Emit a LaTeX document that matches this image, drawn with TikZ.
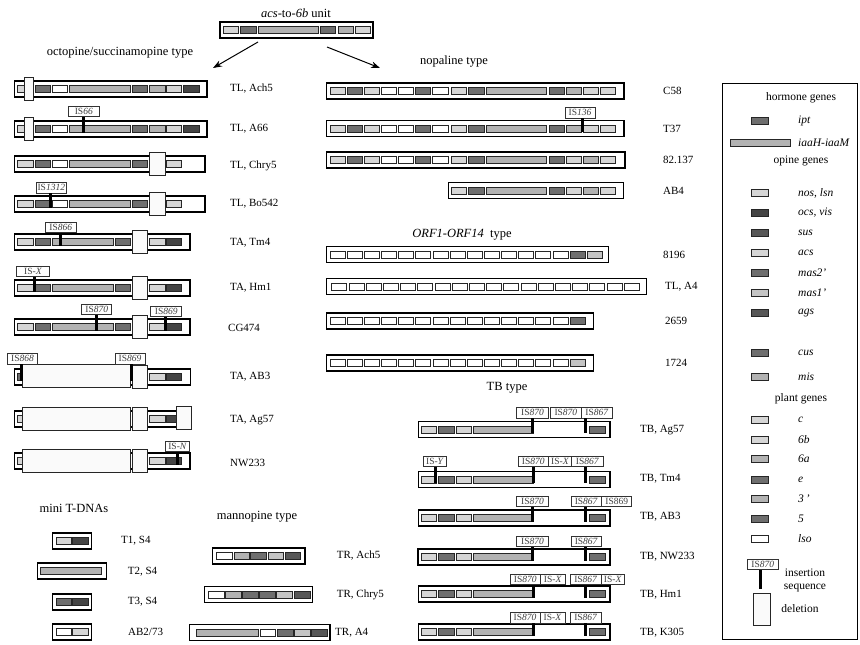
\documentclass[tikz,border=0pt]{standalone}
\usepackage{fontspec}
\setmainfont{Liberation Serif}
\usetikzlibrary{arrows.meta}
\definecolor{GA}{HTML}{D6D6D6}
\definecolor{GB}{HTML}{B2B2B2}
\definecolor{GC}{HTML}{6E6E6E}
\definecolor{GD}{HTML}{444444}
\definecolor{GF}{HTML}{575757}
\definecolor{GE}{HTML}{C4C4C4}
\newcommand{\Gn}[4]{\draw[gene,fill=#4] ({#1},{#3-3.6}) rectangle ({#2},{#3+3.6});}
\newcommand{\Cb}[3]{\draw[cons] ({#1},{#3-8}) rectangle ({#2},{#3+8});}
\newcommand{\Dl}[3]{\draw[del] ({#1},{#3-11.5}) rectangle ({#2},{#3+11.5});}
\newcommand{\ISl}[5]{\node[islab, minimum width=#4pt] (#1) at ({#2},{#3}) {#5};}
\newcommand{\ISbar}[3]{\coordinate (#1b) at ({#2},{#3}); \draw[isbar] (#1.south -| #1b) -- (#1b);}
\newcommand{\isn}[1]{IS\textit{#1}}
\begin{document}
\begin{tikzpicture}[x=1pt,y=-1pt,
 gene/.style={draw=black!85, line width=0.7pt},
 cons/.style={draw=black, line width=1.4pt, fill=white},
 del/.style={draw=black!85, line width=0.8pt, fill=black!2},
 islab/.style={draw=black!80, line width=0.6pt, fill=white, inner sep=0pt, minimum height=10.5pt, anchor=south, font=\fontsize{9.5}{10}\selectfont, text=black!75},
 isbar/.style={line width=3pt, black},
 rowlab/.style={anchor=west, font=\fontsize{11}{13}\selectfont, inner sep=0pt},
 title/.style={font=\fontsize{12.5}{14}\selectfont, inner sep=0pt},
 legh/.style={font=\fontsize{11.5}{13}\selectfont, inner sep=0pt},
 legt/.style={anchor=west, font=\fontsize{11.5}{13}\selectfont\itshape, inner sep=0pt},
 arr/.style={-{Stealth[length=9pt,width=6.5pt]}, line width=1pt}]
\useasboundingbox (0,0) rectangle (860,645);
% ---------------- top unit
\node[title] (tunit) at (296,13) {\textit{acs}-to-\textit{6b} unit};
\Cb{220}{373}{30}
\Gn{223.3}{238.3}{30}{GA}\Gn{240.7}{256}{30}{GC}\Gn{258.3}{318.3}{30}{GB}
\Gn{320}{335}{30}{GC}\Gn{338.3}{353.3}{30}{GB}\Gn{355}{370}{30}{GA}
\coordinate (a1s) at (258,42); \coordinate (a1e) at (213,68);
\coordinate (a2s) at (327,47); \coordinate (a2e) at (380,68);
\draw[arr] (a1s) -- (a1e);
\draw[arr] (a2s) -- (a2e);
% ---------------- titles
\node[title] (toct) at (120,53) {octopine/succinamopine type};
\node[title] (tnop) at (454,62) {nopaline type};
\node[title] (torf) at (462,235) {\textit{ORF1-ORF14}\enspace type};
\node[title] (ttb) at (507,388) {TB type};
\node[title] (tmini) at (74,508) {mini T-DNAs};
\node[title] (tman) at (257,517) {mannopine type};
% ---------------- octopine rows
\foreach \y in {89,129}{
 \Cb{14.3}{207}{\y}
 \Gn{17.7}{33}{\y}{GA}\Gn{35}{50.7}{\y}{GC}\Gn{52.7}{67.3}{\y}{white}\Gn{69.3}{130}{\y}{GB}
 \Gn{132.3}{147.3}{\y}{GC}\Gn{149.3}{165}{\y}{GB}\Gn{166.7}{181.7}{\y}{GA}\Gn{183.3}{199.3}{\y}{GD}
 \Dl{24}{33}{\y}
}
\ISl{is66}{83.8}{117}{31}{\isn{66}}\ISbar{is66}{83.3}{132.6}
\foreach \y in {164,204}{
 \Cb{14.3}{205}{\y}
 \Gn{17.7}{33}{\y}{GA}\Gn{35}{50.7}{\y}{GC}\Gn{52.7}{67.3}{\y}{white}\Gn{69.3}{130}{\y}{GB}
 \Gn{132.3}{147.3}{\y}{GC}\Gn{166.7}{181.7}{\y}{GA}
 \Dl{149.3}{165}{\y}
}
\ISl{is1312}{51.3}{193.3}{30.7}{\isn{1312}}\ISbar{is1312}{50.8}{207.6}
\foreach \y in {242,288,327}{
 \Cb{14.3}{190}{\y}
 \Gn{17.7}{33}{\y}{GA}\Gn{35}{50.7}{\y}{GC}\Gn{52.7}{113.3}{\y}{GB}\Gn{115}{130}{\y}{GC}
 \Gn{149.3}{165}{\y}{GA}\Gn{166.7}{181.7}{\y}{GD}
 \Dl{132.3}{147.7}{\y}
}
\ISl{is866}{60.8}{232.7}{30.3}{\isn{866}}\ISbar{is866}{60.8}{245.6}
\ISl{isxh}{33}{277}{32.6}{IS-\textit{X}}\ISbar{isxh}{34.7}{291.6}
\ISl{is870c}{96.7}{315}{30}{\isn{870}}\ISbar{is870c}{96}{330.6}
\ISl{is869c}{166.2}{316.7}{31}{\isn{869}}\ISbar{is869c}{165.8}{330.6}
% AB3
\Cb{14.3}{190.7}{377}
\Gn{17.7}{22.7}{377}{GC}\Gn{149.3}{165}{377}{GA}\Gn{166.7}{181.7}{377}{GD}
\Dl{22.7}{130.7}{376}\Dl{132.7}{147.7}{377}
\ISl{is868}{22.5}{364.3}{30.4}{\isn{868}}\ISbar{is868}{21.7}{380.6}
\ISl{is869a}{130}{364.3}{30}{\isn{869}}\ISbar{is869a}{131.3}{380.6}
% Ag57
\Cb{14.3}{190}{419}
\Gn{17.7}{22.7}{419}{GA}\Gn{149.3}{165}{419}{GA}\Gn{166.7}{176}{419}{GD}
\Dl{22.7}{130.7}{419}\Dl{132.7}{147.7}{419}\Dl{176}{191.7}{417.5}
% NW233
\Cb{14.3}{190}{461}
\Gn{17.7}{22.7}{461}{GA}\Gn{149.3}{165}{461}{GA}\Gn{166.7}{181.7}{461}{GD}
\Dl{22.7}{130.7}{461}\Dl{132.7}{147.7}{461}
\ISl{isn}{177.5}{451.7}{23.6}{IS-\textit{N}}\ISbar{isn}{177}{464.6}
% labels
\node[rowlab] (lach5) at (230,89) {TL, Ach5};
\node[rowlab] (la66) at (230,129) {TL, A66};
\node[rowlab] (lchry5) at (230,166) {TL, Chry5};
\node[rowlab] (lbo542) at (230,204) {TL, Bo542};
\node[rowlab] (ltm4) at (230,243) {TA, Tm4};
\node[rowlab] (lhm1) at (230,288) {TA, Hm1};
\node[rowlab] (lcg474) at (228,328) {CG474};
\node[rowlab] (lab3) at (230,377) {TA, AB3};
\node[rowlab] (lag57) at (230,420) {TA, Ag57};
\node[rowlab] (lnw233) at (230,463) {NW233};
% ---------------- mini T-DNAs
\Cb{52.7}{91.7}{541}\Gn{56}{71}{541}{GA}\Gn{72.7}{88.3}{541}{GD}
\Cb{37.3}{106.7}{571}\Gn{40.7}{101.7}{571}{GB}
\Cb{52.7}{91.7}{602}\Gn{56}{71}{602}{GC}\Gn{72.7}{88.3}{602}{GD}
\Cb{52.7}{91.7}{632}\Gn{56}{71}{632}{white}\Gn{72.7}{88.3}{632}{GA}
\node[rowlab] (lt1) at (121,541) {T1, S4};
\node[rowlab] (lt2) at (127.7,572) {T2, S4};
\node[rowlab] (lt3) at (127.7,602) {T3, S4};
\node[rowlab] (lab273) at (128,632) {AB2/73};
% ---------------- mannopine
\Cb{212.3}{305}{556}
\Gn{216.7}{232.7}{556}{white}\Gn{234}{249.3}{556}{GB}\Gn{250.7}{266.7}{556}{GC}\Gn{268.3}{283.3}{556}{GE}\Gn{285}{300.7}{556}{GF}
\Cb{204.3}{312.3}{594.5}
\Gn{208.3}{224}{594.5}{white}\Gn{225.7}{241}{594.5}{GB}\Gn{242.7}{258}{594.5}{GC}\Gn{259.7}{275}{594.5}{GC}\Gn{276.7}{292}{594.5}{GE}\Gn{294}{310}{594.5}{GF}
\Cb{189.3}{330}{632.5}
\Gn{196.7}{258.3}{632.5}{GB}\Gn{260}{275.7}{632.5}{white}\Gn{277.3}{293}{632.5}{GC}\Gn{294.7}{310}{632.5}{GE}\Gn{311.7}{327.3}{632.5}{GF}
\node[rowlab] (ltrach5) at (336.7,556) {TR, Ach5};
\node[rowlab] (ltrchry5) at (336.7,595) {TR, Chry5};
\node[rowlab] (ltra4) at (335,632.5) {TR, A4};
% ---------------- nopaline
\foreach \y in {91,128.7}{
 \Cb{326.7}{624}{\y}
 \foreach \a/\b/\c in {330/345/GA,347.3/362.3/GC,364.3/379.3/GA,381.7/396.7/white,398.7/413.7/white,415.7/430.7/GC,432.7/448/white,451/466.7/GA,468.3/484/GC,486/546.7/GB,549.3/564.3/GC,566.7/581.7/GB,583.3/598.3/GA,600/615/GA}{\Gn{\a}{\b}{\y}{\c}}
}
\ISl{is136}{580}{118.3}{30}{\isn{136}}\ISbar{is136}{582.3}{132.4}
\Cb{326.7}{625}{160}
\foreach \a/\b/\c in {330/345/GA,347.3/362.3/GC,364.3/379.3/GA,381.7/396.7/white,398.7/413.7/white,415.7/430.7/GC,432.7/448/white,451/466.7/GA,468.3/484/GC,486/546.7/GB,549.3/564.3/GC,566.7/581.7/GA,583.3/598.3/GB,600/615/GA}{\Gn{\a}{\b}{160}{\c}}
\Cb{448.3}{623.3}{190.5}
\foreach \a/\b/\c in {451.7/466.7/GA,468.3/484/GC,486/546.7/GB,549.3/564.3/GC,566.7/581.7/GA,583.3/598.3/GB,600/615/GA}{\Gn{\a}{\b}{190.5}{\c}}
\node[rowlab] (lc58) at (663,91) {C58};
\node[rowlab] (lt37) at (663,129) {T37};
\node[rowlab] (l82) at (663,160) {82.137};
\node[rowlab] (lab4) at (663,190.5) {AB4};
% ---------------- ORF rows
\Cb{326.7}{608.3}{254.5}
\foreach \k in {0,...,13}{\Gn{330+\k*17.15}{345+\k*17.15}{254.5}{white}}
\Gn{570.1}{585.1}{254.5}{GC}\Gn{587.25}{602.25}{254.5}{GE}
\Cb{326.7}{646.7}{286.5}
\foreach \k in {0,...,17}{\Gn{331.7+\k*17.2}{346.7+\k*17.2}{286.5}{white}}
\Cb{326.7}{593.3}{321}
\foreach \k in {0,...,13}{\Gn{330+\k*17.15}{345+\k*17.15}{321}{white}}
\Gn{570.1}{585.1}{321}{GC}
\Cb{326.7}{593.3}{363}
\foreach \k in {0,...,13}{\Gn{330+\k*17.15}{345+\k*17.15}{363}{white}}
\Gn{570.1}{585.1}{363}{GE}
\node[rowlab] (l8196) at (663,254.5) {8196};
\node[rowlab] (ltla4) at (665,286.5) {TL, A4};
\node[rowlab] (l2659) at (665,321) {2659};
\node[rowlab] (l1724) at (665,363) {1724};
% ---------------- TB rows
\foreach \y in {429.5,479.5,518,557,594,632}{
 \Cb{418.3}{610}{\y}
 \Gn{421.7}{436.7}{\y}{GA}\Gn{438.3}{454}{\y}{GC}\Gn{456}{471}{\y}{GA}\Gn{473.3}{533.3}{\y}{GB}\Gn{589.3}{605}{\y}{GC}
}
\draw[line width=2.2pt] (418.3,549) rectangle (610,565);
\ISl{tba1}{532.5}{418.3}{31.6}{\isn{870}}\ISl{tba2}{565.85}{418.3}{31.7}{\isn{870}}\ISl{tba3}{597}{418.3}{30.6}{\isn{867}}
\ISbar{tba1}{532.5}{433.1}\ISbar{tba3}{585}{433.1}
\ISl{tbb0}{435}{467}{23.4}{IS-\textit{Y}}\ISbar{tbb0}{435}{483.1}
\ISl{tbb1}{533.3}{467}{30}{\isn{870}}\ISl{tbb2}{560}{467}{23.4}{IS-\textit{X}}\ISl{tbb3}{587.5}{467}{31.6}{\isn{867}}
\ISbar{tbb1}{533}{483.1}\ISbar{tbb3}{585.5}{483.1}
\ISl{tbc1}{532.5}{506.7}{31.6}{\isn{870}}\ISl{tbc2}{586.3}{506.7}{30.7}{\isn{867}}\ISl{tbc3}{616.7}{506.7}{30}{IS869}
\ISbar{tbc1}{532.5}{521.6}\ISbar{tbc2}{585.5}{521.6}
\ISl{tbd1}{532.5}{547}{31.6}{\isn{870}}\ISl{tbd2}{586.3}{547}{30.7}{\isn{867}}
\ISbar{tbd1}{532.5}{560.6}\ISbar{tbd2}{585.5}{560.6}
\ISl{tbe1}{525.3}{585}{30.7}{\isn{870}}\ISl{tbe2}{552.8}{585}{24.3}{IS-\textit{X}}\ISl{tbe3}{585.8}{585}{31.7}{\isn{867}}\ISl{tbe4}{612.8}{585}{22.3}{IS-\textit{X}}
\ISbar{tbe1}{533}{597.6}\ISbar{tbe3}{585.3}{597.6}
\ISl{tbf1}{525}{623.3}{30}{\isn{870}}\ISl{tbf2}{552.5}{623.3}{25}{IS-\textit{X}}\ISl{tbf3}{585.8}{623.3}{31.7}{\isn{867}}
\ISbar{tbf1}{533}{635.6}\ISbar{tbf3}{585.3}{635.6}
\node[rowlab] (ltbag57) at (640,430) {TB, Ag57};
\node[rowlab] (ltbtm4) at (640,479) {TB, Tm4};
\node[rowlab] (ltbab3) at (640,517) {TB, AB3};
\node[rowlab] (ltbnw) at (640,557) {TB, NW233};
\node[rowlab] (ltbhm1) at (640,595) {TB, Hm1};
\node[rowlab] (ltbk305) at (640,633) {TB, K305};
% ---------------- legend
\draw[line width=0.9pt] (722,83) rectangle (857,639);
\node[legh] (lgh) at (801,98) {hormone genes};
\node[legh] (lgo) at (801,161) {opine genes};
\node[legh] (lgp) at (801,399) {plant genes};
\Gn{751.7}{768.3}{121}{GC}\node[legt] (lg1) at (798,121) {ipt};
\Gn{730}{790}{143}{GB}\node[legt] (lg2) at (798,143) {iaaH-iaaM};
\foreach \yy/\cc/\tt in {193/GA/{nos, lsn},213/GD/{ocs, vis},233/GF/sus,253/GA/acs,273/GC/mas2',293/GE/mas1',313/GF/ags,353/GC/cus,377/GB/mis,420/GA/c,440/GA/6b,459/GB/6a,480/GC/e,499/GB/3\,',519/GC/5,539/white/lso}{
 \Gn{751.7}{768.3}{\yy}{\cc}\node[legt] at (798,\yy) {\tt};
}
\ISl{lgis}{762.8}{570}{31}{\isn{870}}\ISbar{lgis}{760.7}{589}
\node[legh] (lgins) at (805,573) {insertion};
\node[legh] (lgseq) at (805,588) {sequence};
\draw[del] (753.3,593) rectangle (770,625);
\node[legh] (lgdel) at (800,609) {deletion};
\end{tikzpicture}
\end{document}
